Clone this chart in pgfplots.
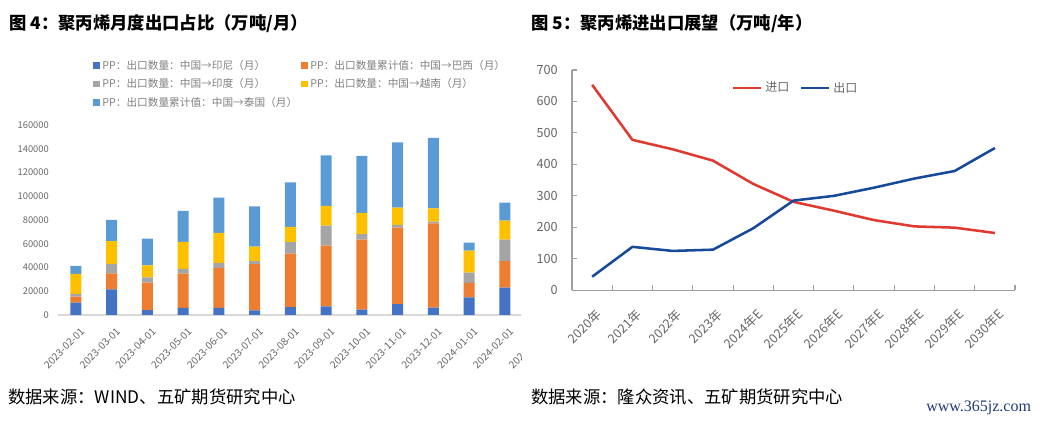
\documentclass[border=0pt]{standalone}
\usepackage{fontspec}
\setmainfont{Noto Sans CJK SC}
\newfontfamily\wmfont{Liberation Serif}
\usepackage{pgfplots}
\pgfplotsset{compat=1.18,/pgf/number format/assume math mode=true}
\definecolor{cA}{HTML}{4472C4}
\definecolor{cB}{HTML}{ED7D31}
\definecolor{cC}{HTML}{A5A5A5}
\definecolor{cD}{HTML}{FFC000}
\definecolor{cE}{HTML}{5B9BD5}
\definecolor{cred}{HTML}{E03A30}
\definecolor{cblue}{HTML}{174A98}
\definecolor{tickgray}{HTML}{666666}
\definecolor{leggray}{HTML}{808080}
\definecolor{axgray}{HTML}{D9D9D9}
\definecolor{axgray2}{HTML}{A0A0A0}
\definecolor{wmblue}{HTML}{1F3A78}
\begin{document}
\begin{tikzpicture}[x=0.75pt,y=0.75pt]
\path[use as bounding box] (0,0) rectangle (1048,424);
% titles
\node[anchor=west,inner sep=0pt,font=\fontsize{13}{15}\selectfont\bfseries] at (9,400) {图 4：聚丙烯月度出口占比（万吨/月）};
\node[anchor=west,inner sep=0pt,font=\fontsize{13}{15}\selectfont\bfseries] at (531,400) {图 5：聚丙烯进出口展望（万吨/年）};
% footers
\node[anchor=west,inner sep=0pt,font=\fontsize{13}{15}\selectfont] at (8,27) {数据来源：WIND、五矿期货研究中心};
\node[anchor=west,inner sep=0pt,font=\fontsize{13}{15}\selectfont] at (531,27) {数据来源：隆众资讯、五矿期货研究中心};
\node[anchor=west,inner sep=0pt,font=\wmfont\fontsize{12}{14}\selectfont,text=wmblue] at (926,16) {www.365jz.com};

\begin{scope}
\clip (0,0) rectangle (521,424);
\begin{axis}[
  at={(43.5pt,81.75pt)}, anchor=south west, scale only axis,
  width=375.4pt, height=142.5pt,
  ybar stacked, bar width=8.25pt,
  legend image code/.code={\fill[#1] (0pt,-2.4pt) rectangle (4.8pt,2.4pt);},
  xmin=-0.5, xmax=13.5, ymin=0, ymax=160000,
  xtick={0,...,13},
  xticklabels={2023-02-01,2023-03-01,2023-04-01,2023-05-01,2023-06-01,2023-07-01,2023-08-01,2023-09-01,2023-10-01,2023-11-01,2023-12-01,2024-01-01,2024-02-01,2024-03-01},
  ytick={0,20000,...,160000},
  scaled y ticks=false,
  yticklabel style={/pgf/number format/fixed,/pgf/number format/1000 sep={},font=\fontsize{7}{8}\selectfont,text=tickgray,anchor=east,inner sep=0pt,xshift=-6.75pt},
  xticklabel style={xshift=3pt,yshift=-9pt,rotate=45,anchor=north east,inner sep=0pt,font=\fontsize{7.6}{8}\selectfont,text=tickgray},
  axis x line*=bottom, axis y line*=left,
  x axis line style={draw=axgray,line width=0.8pt}, y axis line style={draw=none},
  major tick length=0pt,
  legend cell align=left,
  legend style={at={(0.062,1.372)},anchor=north west,draw=none,fill=none,legend columns=2,
    font=\fontsize{8}{9}\selectfont,text=leggray,row sep=1.6pt,
    /tikz/every even column/.append style={column sep=1pt}},
]
\addplot[fill=cA,draw=none] coordinates {(0,10400) (1,21600) (2,4200) (3,5900) (4,5900) (5,3900) (6,6700) (7,7300) (8,4500) (9,9250) (10,6200) (11,14900) (12,23000)};
\addplot[fill=cB,draw=none] coordinates {(0,5050) (1,13500) (2,23000) (3,28900) (4,33700) (5,39000) (6,44900) (7,51100) (8,58950) (9,64300) (10,71000) (11,12050) (12,22450)};
\addplot[fill=cC,draw=none] coordinates {(0,2250) (1,7850) (2,4500) (3,3950) (4,4200) (5,2550) (6,9800) (7,16850) (8,4750) (9,2250) (10,1400) (11,8700) (12,17950)};
\addplot[fill=cD,draw=none] coordinates {(0,16850) (1,19350) (2,10100) (3,22750) (4,25250) (5,12050) (6,12900) (7,16550) (8,17700) (9,14600) (10,11250) (11,18550) (12,16000)};
\addplot[fill=cE,draw=none] coordinates {(0,6750) (1,17700) (2,22450) (3,26100) (4,29750) (5,34000) (6,37350) (7,42650) (8,48000) (9,55000) (10,59250) (11,6750) (12,15150)};
\legend{PP：出口数量：中国→印尼（月）,PP：出口数量累计值：中国→巴西（月）,PP：出口数量：中国→印度（月）,PP：出口数量：中国→越南（月）,PP：出口数量累计值：中国→泰国（月）}
\end{axis}
\end{scope}

\begin{axis}[
  at={(429pt,100.3pt)}, anchor=south west, scale only axis,
  width=332.25pt, height=165.2pt,
  xmin=-0.5, xmax=10.5, ymin=0, ymax=700,
  xtick={-0.5,0.5,...,10.5}, x tick label as interval,
  xticklabels={2020年,2021年,2022年,2023年,2024年E,2025年E,2026年E,2027年E,2028年E,2029年E,2030年E},
  ytick={0,100,...,700},
  axis x line*=bottom, axis y line*=left,
  axis line style={draw=axgray2,line width=0.8pt},
  tick align=inside, major tick length=4pt, tick style={draw=axgray2,line width=0.8pt},
  yticklabel style={font=\fontsize{9.5}{11}\selectfont,text=tickgray,anchor=east,inner sep=0pt,xshift=-10.5pt},
  xticklabel style={xshift=2pt,yshift=-13pt,rotate=45,anchor=north east,inner sep=0pt,font=\fontsize{9.5}{11}\selectfont,text=tickgray},
  legend image code/.code={\draw[#1] (0pt,0pt) -- (21pt,0pt);},
  legend cell align=left,
  legend style={at={(0.352,0.918)},anchor=west,draw=none,fill=none,legend columns=2,
    font=\fontsize{9}{10}\selectfont,text=tickgray,
    /tikz/every even column/.append style={column sep=6pt}},
]
\addplot[color=cred,line width=1.9pt,line join=round] coordinates {(0,653) (1,478) (2,448) (3,412) (4,338) (5,281) (6,253) (7,223) (8,203) (9,199) (10,182)};
\addplot[color=cblue,line width=1.9pt,line join=round] coordinates {(0,43) (1,138) (2,125) (3,129) (4,197) (5,285) (6,300) (7,326) (8,355) (9,379) (10,452)};
\legend{进口,出口}
\end{axis}
\end{tikzpicture}
\end{document}
